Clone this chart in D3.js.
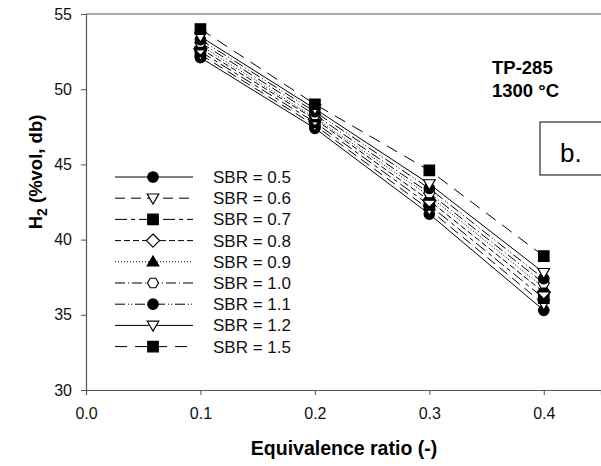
<!DOCTYPE html>
<html><head><meta charset="utf-8">
<script src="https://cdn.jsdelivr.net/npm/d3@7"></script>
<style>body{margin:0;background:#fff}svg{display:block;font-family:"Liberation Sans",Arial,sans-serif}</style>
</head><body><svg id="c" width="601" height="466"></svg>
<script>
const xValues = [0.1, 0.2, 0.3, 0.4];
const sbrLabels = ["SBR = 0.5","SBR = 0.6","SBR = 0.7","SBR = 0.8","SBR = 0.9","SBR = 1.0","SBR = 1.1","SBR = 1.2","SBR = 1.5"];
const sbr05 = [52.1, 47.4, 41.7, 35.3];
const sbr06 = [52.3, 47.6, 42.0, 35.7];
const sbr07 = [52.5, 47.8, 42.3, 36.1];
const sbr08 = [52.7, 48.0, 42.6, 36.5];
const sbr09 = [52.9, 48.1, 42.9, 36.8];
const sbr10 = [53.1, 48.3, 43.1, 37.1];
const sbr11 = [53.3, 48.5, 43.4, 37.4];
const sbr12 = [53.5, 48.7, 43.7, 37.8];
const sbr15 = [54.0, 49.0, 44.6, 38.9];
const xTicks = [0.0, 0.1, 0.2, 0.3, 0.4];
const yTicks = [30, 35, 40, 45, 50, 55];

const series = [sbr05,sbr06,sbr07,sbr08,sbr09,sbr10,sbr11,sbr12,sbr15];
const styles = [
  {dash:null, sym:"circle", fill:true},
  {dash:"10,6", sym:"tridown", fill:false},
  {dash:"12,4,4,4", sym:"square", fill:true},
  {dash:"6,3", sym:"diamond", fill:false},
  {dash:"1,2", sym:"triup", fill:true},
  {dash:"10,3,1,3", sym:"hex", fill:false},
  {dash:"10,3,1,2,1,3", sym:"circle", fill:true},
  {dash:null, sym:"tridown", fill:false},
  {dash:"12,8", sym:"square", fill:true}
];

const svg = d3.select("#c");
const L = 86, T = 14, B = 390, R = 601;
const x = d3.scaleLinear().domain([0, 0.45]).range([L, R]);
const y = d3.scaleLinear().domain([30, 55]).range([B, T]);

svg.append("line").attr("x1",L).attr("x2",R).attr("y1",T).attr("y2",T).attr("stroke","#555").attr("stroke-width",1.2);

const xAxis = svg.append("g").attr("transform",`translate(0,${B})`)
  .call(d3.axisBottom(x).tickValues(xTicks).tickFormat(d3.format(".1f")).tickSizeOuter(0).tickSize(5).tickPadding(13));
const yAxis = svg.append("g").attr("transform",`translate(${L},0)`)
  .call(d3.axisLeft(y).tickValues(yTicks).tickSizeOuter(0).tickSize(5).tickPadding(9));
[xAxis,yAxis].forEach(a=>{
  a.select(".domain").attr("stroke","#555").attr("stroke-width",1.2);
  a.selectAll(".tick line").attr("stroke","#555");
  a.selectAll("text").attr("font-size",16).attr("fill","#111").attr("font-family","Liberation Sans, Arial");
});

function symPath(sym, s){
  const r = s/2;
  switch(sym){
    case "circle": return d3.symbol(d3.symbolCircle, Math.PI*r*r)();
    case "square": return `M${-r},${-r}H${r}V${r}H${-r}Z`;
    case "diamond": return `M0,${-r*1.25}L${r*1.25},0L0,${r*1.25}L${-r*1.25},0Z`;
    case "triup": return `M0,${-r*1.1}L${r*1.1},${r*0.8}L${-r*1.1},${r*0.8}Z`;
    case "tridown": return `M0,${r*1.1}L${r*1.1},${-r*0.8}L${-r*1.1},${-r*0.8}Z`;
    case "hex": { let p=[]; for(let i=0;i<6;i++){const a=Math.PI/3*i; p.push([r*1.05*Math.cos(a), r*1.05*Math.sin(a)]);} return "M"+p.map(q=>q.join(",")).join("L")+"Z"; }
  }
}
function drawMarker(g, st, cx, cy){
  g.append("path").attr("d", symPath(st.sym, 10.5)).attr("transform",`translate(${cx},${cy})`)
    .attr("fill", st.fill ? "#000" : "#fff").attr("stroke","#000").attr("stroke-width",1.2);
}

const line = d3.line().x((d,i)=>x(xValues[i])).y(d=>y(d));
series.forEach((s,k)=>{
  const st = styles[k];
  svg.append("path").datum(s).attr("d",line).attr("fill","none").attr("stroke","#000")
    .attr("stroke-width",1).attr("stroke-dasharray",st.dash);
});
series.forEach((s,k)=>{
  const g = svg.append("g");
  s.forEach((v,i)=>drawMarker(g, styles[k], x(xValues[i]), y(v)));
});

const lg = svg.append("g");
sbrLabels.forEach((lab,k)=>{
  const yy = 177 + k*21.2;
  const st = styles[k];
  lg.append("line").attr("x1",115).attr("x2",193).attr("y1",yy).attr("y2",yy).attr("stroke","#000").attr("stroke-width",1).attr("stroke-dasharray",st.dash);
  drawMarker(lg, st, 153, yy);
  lg.append("text").attr("x",213).attr("y",yy+6).attr("font-size",17).attr("fill","#111").text(lab);
});

svg.append("text").attr("x",492).attr("y",74).attr("font-size",18.5).attr("font-weight","bold").text("TP-285");
svg.append("text").attr("x",492).attr("y",97).attr("font-size",18.5).attr("font-weight","bold").text("1300 °C");
svg.append("rect").attr("x",540).attr("y",122).attr("width",70).attr("height",53).attr("fill","#fff").attr("stroke","#000").attr("stroke-width",1);
svg.append("text").attr("x",560).attr("y",162).attr("font-size",26).text("b.");

svg.append("text").attr("x",344).attr("y",455).attr("text-anchor","middle").attr("font-size",19.5).attr("font-weight","bold").text("Equivalence ratio (-)");
const yt = svg.append("text").attr("transform","translate(42,172) rotate(-90)").attr("text-anchor","middle").attr("font-size",18.5).attr("font-weight","bold");
yt.append("tspan").text("H");
yt.append("tspan").attr("font-size",14).attr("dy",5).text("2");
yt.append("tspan").attr("dy",-5).text(" (%vol, db)");
</script></body></html>
